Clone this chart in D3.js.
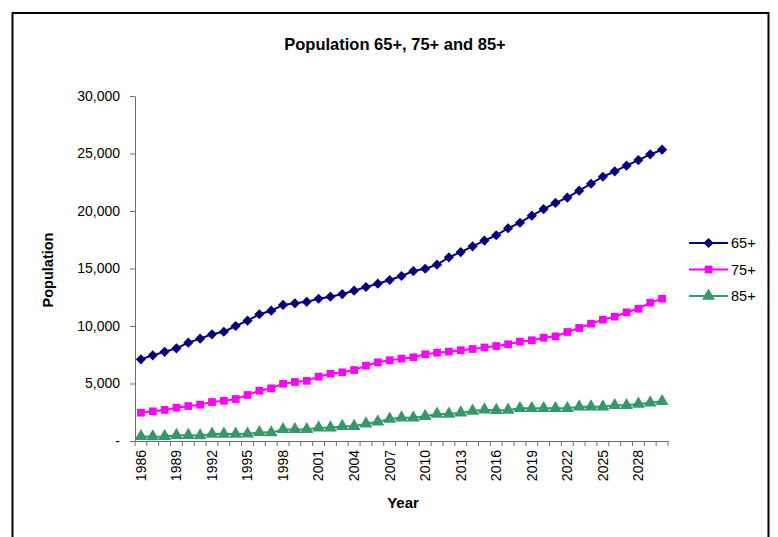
<!DOCTYPE html>
<html>
<head>
<meta charset="utf-8">
<script src="https://cdn.jsdelivr.net/npm/d3@7"></script>
<style>
  html, body { margin: 0; padding: 0; background: #fff; }
  svg { display: block; font-family: "Liberation Sans", Arial, sans-serif; }
</style>
</head>
<body>
<svg id="chart" width="778" height="537"></svg>
<script>
// Years 1986–2030
const years = d3.range(1986, 2031);

// Population aged 65+, 75+ and 85+
const pop65 = [7100, 7450, 7750, 8060, 8550, 8900, 9280, 9500, 10000, 10460,
  11020, 11330, 11830, 11970, 12100, 12370, 12550, 12780, 13070, 13390,
  13680, 14000, 14350, 14780, 14980, 15330, 15970, 16430, 16930, 17430,
  17890, 18500, 18980, 19590, 20170, 20700, 21160, 21770, 22370, 22980,
  23450, 23940, 24430, 24930, 25330];

const pop75 = [2460, 2580, 2700, 2900, 3040, 3160, 3390, 3500, 3650, 4000,
  4370, 4580, 4980, 5130, 5230, 5590, 5850, 5970, 6170, 6550,
  6840, 7020, 7160, 7280, 7540, 7680, 7770, 7890, 8000, 8130,
  8260, 8410, 8640, 8760, 8980, 9100, 9480, 9830, 10200, 10550,
  10810, 11190, 11500, 12030, 12370];

const pop85 = [400, 380, 400, 500, 500, 470, 610, 610, 610, 620,
  750, 730, 1010, 1010, 1010, 1160, 1160, 1280, 1280, 1500,
  1680, 1910, 2030, 2030, 2150, 2350, 2350, 2460, 2610, 2720,
  2680, 2700, 2840, 2840, 2840, 2840, 2840, 2980, 2980, 2980,
  3100, 3100, 3220, 3330, 3450];

const seriesNames = ["65+", "75+", "85+"];
const seriesColors = ["#000080", "#FF00FF", "#339966"];
// diamond = square turned 45 degrees
const seriesShapes = [d3.symbolSquare, d3.symbolSquare, d3.symbolTriangle];
const seriesRotate = [45, 0, 0];
const seriesSizes = [52, 60, 72];

const yTicks = [0, 5000, 10000, 15000, 20000, 25000, 30000];
const xLabelYears = years.filter((d, i) => i % 3 === 0 && d <= 2028);

const svg = d3.select("#chart");

// outer chart frame
svg.append("rect")
  .attr("x", 12.5).attr("y", 13).attr("width", 756).attr("height", 540)
  .attr("fill", "none").attr("stroke", "#000").attr("stroke-width", 2);

const plot = { left: 135, right: 668, top: 96, bottom: 441 };

const x = d3.scaleBand().domain(years).range([plot.left, plot.right]).padding(0);
const y = d3.scaleLinear().domain([0, 30000]).range([plot.bottom, plot.top]);
const cx = d => x(d) + x.bandwidth() / 2;

// title
svg.append("text")
  .attr("x", 395).attr("y", 50)
  .attr("text-anchor", "middle")
  .attr("font-weight", "bold").attr("font-size", 16.5)
  .text("Population 65+, 75+ and 85+");

// y axis
const yAxis = svg.append("g")
  .attr("transform", `translate(${plot.left},0)`)
  .call(d3.axisLeft(y).tickValues(yTicks)
    .tickFormat(d => d === 0 ? "-" : d3.format(",")(d))
    .tickSize(5).tickSizeOuter(0).tickPadding(10));
yAxis.select(".domain").attr("stroke", "#6f6f6f");
yAxis.selectAll(".tick line").attr("stroke", "#6f6f6f");
yAxis.selectAll(".tick text").attr("font-size", 14).attr("fill", "#000")
  .attr("font-family", "Liberation Sans, Arial, sans-serif");

// x axis (labels every third year, ticks between categories)
const xAxis = svg.append("g")
  .attr("transform", `translate(0,${plot.bottom})`)
  .call(d3.axisBottom(x).tickValues(xLabelYears).tickSize(0).tickSizeOuter(0).tickPadding(0));
xAxis.select(".domain").attr("stroke", "#6f6f6f");
xAxis.selectAll(".tick text")
  .attr("font-size", 14).attr("fill", "#000")
  .attr("font-family", "Liberation Sans, Arial, sans-serif")
  .attr("transform", "rotate(-90)")
  .attr("text-anchor", "end")
  .attr("x", -9).attr("y", 0).attr("dy", "0.35em");

svg.append("g").selectAll("line")
  .data(years.concat([null]))
  .join("line")
  .attr("x1", d => d === null ? plot.right : x(d))
  .attr("x2", d => d === null ? plot.right : x(d))
  .attr("y1", plot.bottom).attr("y2", plot.bottom + 5)
  .attr("stroke", "#6f6f6f");

// axis titles
svg.append("text")
  .attr("transform", `translate(53,270) rotate(-90)`)
  .attr("text-anchor", "middle")
  .attr("font-weight", "bold").attr("font-size", 14.5)
  .text("Population");

svg.append("text")
  .attr("x", 403).attr("y", 508)
  .attr("text-anchor", "middle")
  .attr("font-weight", "bold").attr("font-size", 15)
  .text("Year");

// series lines and markers
const seriesData = [pop65, pop75, pop85];
const line = d3.line().x(d => cx(d.year)).y(d => y(d.value));

seriesData.forEach((vals, si) => {
  const pts = years.map((yr, i) => ({ year: yr, value: vals[i] }));
  const g = svg.append("g");
  g.append("path")
    .datum(pts)
    .attr("d", line)
    .attr("fill", "none")
    .attr("stroke", seriesColors[si])
    .attr("stroke-width", 2);
  const sym = d3.symbol().type(seriesShapes[si]).size(seriesSizes[si]);
  g.selectAll("path.m")
    .data(pts)
    .join("path")
    .attr("class", "m")
    .attr("transform", d => `translate(${cx(d.year)},${y(d.value)}) rotate(${seriesRotate[si]})`)
    .attr("d", sym)
    .attr("fill", seriesColors[si]);
});

// legend
const legend = svg.append("g");
seriesNames.forEach((name, i) => {
  const ly = 243 + i * 26.5;
  legend.append("line")
    .attr("x1", 689).attr("x2", 728).attr("y1", ly).attr("y2", ly)
    .attr("stroke", seriesColors[i]).attr("stroke-width", 2);
  legend.append("path")
    .attr("transform", `translate(708.5,${ly}) rotate(${seriesRotate[i]})`)
    .attr("d", d3.symbol().type(seriesShapes[i]).size(seriesSizes[i])())
    .attr("fill", seriesColors[i]);
  legend.append("text")
    .attr("x", 731).attr("y", ly).attr("dy", "0.36em")
    .attr("font-size", 14.5)
    .text(name);
});
</script>
</body>
</html>
